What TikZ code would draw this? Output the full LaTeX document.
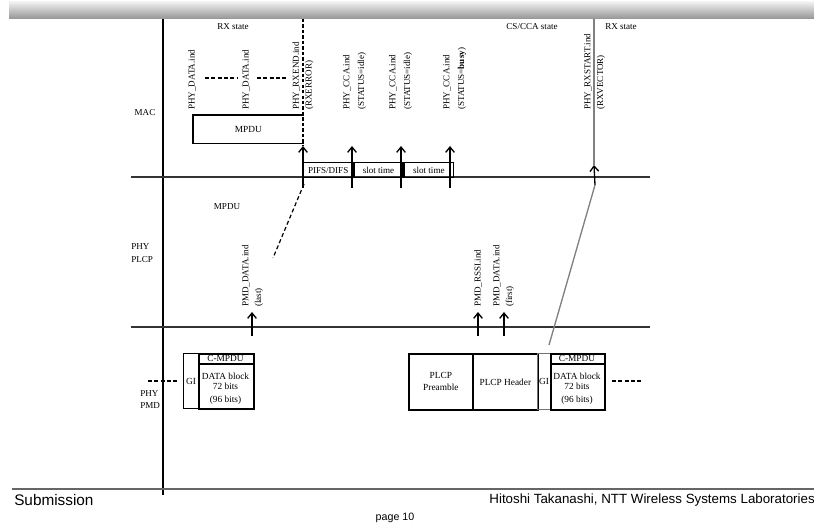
\documentclass[tikz,border=0pt]{standalone}
\usepackage{fontspec}
\setmainfont{Liberation Serif}
\newfontfamily\footfont{Liberation Sans}
\usetikzlibrary{arrows.meta}
\begin{document}
\begin{tikzpicture}[x=0.75pt,y=-0.75pt,
  lbl/.style={font=\fontsize{6.8}{9.5}\selectfont, inner sep=0pt},
  vlbl/.style={lbl, rotate=90, anchor=west, align=left},
  wlbl/.style={vlbl, font=\fontsize{6.8}{11}\selectfont},
  boxtxt/.style={lbl, font=\fontsize{7}{8}\selectfont},
  uparrow/.style={-{Straight Barb[length=4pt,width=6.5pt]}, line width=1pt},
  dotline/.style={line width=2pt, dash pattern=on 3pt off 1.75pt},
  layerline/.style={line width=0.9pt, black!80},
  slotbox/.style={draw, line width=1pt, minimum width=36.75pt, minimum height=11.25pt, inner sep=0pt, anchor=north west, font=\fontsize{6.8}{8}\selectfont},
  thickbox/.style={draw, line width=1.3pt, inner sep=0pt, anchor=north west, align=center, font=\fontsize{7}{9}\selectfont},
  thinbox/.style={draw, line width=0.8pt, inner sep=0pt, anchor=north west, align=center, font=\fontsize{7}{9}\selectfont},
]
\useasboundingbox (0,0) rectangle (814,523);

% top bar
\shade[top color=black!6, bottom color=black!42] (9,2) rectangle (814,19);

% main frame lines
\coordinate (vtop) at (163,19);
\coordinate (vbot) at (163,495);
\draw[line width=0.8pt] (vtop) -- (vbot);
\coordinate (l1a) at (131,177); \coordinate (l1b) at (650,177);
\coordinate (l2a) at (131,327); \coordinate (l2b) at (650,327);
\draw[layerline] (l1a) -- (l1b);
\draw[layerline] (l2a) -- (l2b);
\coordinate (fa) at (12,489); \coordinate (fb) at (814,489);
\draw[line width=1pt, black!60] (fa) -- (fb);

% layer labels
\node[lbl] (mac) at (145,113) {MAC};
\node[lbl, anchor=west, align=left, font=\fontsize{6.8}{9.75}\selectfont] (plcp) at (131,253.5) {PHY\\PLCP};
\node[lbl, anchor=west, align=left, font=\fontsize{6.8}{9}\selectfont] (pmd) at (140,400) {PHY\\PMD};

% state labels
\node[lbl] (rxstA) at (233,27) {RX state};
\node[lbl] (ccast) at (532,27) {CS/CCA state};
\node[lbl] (rxstB) at (621,27) {RX state};

% MAC primitives
\node[vlbl] (pd1) at (192,110) {PHY\_DATA.ind};
\node[vlbl] (pd2) at (246,110) {PHY\_DATA.ind};
\node[vlbl] (rxend) at (303,110) {PHY\_RXEND.ind\\(RXERROR)};
\node[wlbl] (cca1) at (354.5,110) {PHY\_CCA.ind\\(STATUS=idle)};
\node[wlbl] (cca2) at (400.5,110) {PHY\_CCA.ind\\(STATUS=idle)};
\node[wlbl] (cca3) at (454.5,110) {PHY\_CCA.ind\\(STATUS=\textbf{busy})};
\node[vlbl] (rxstart) at (594.5,110) {PHY\_RXSTART.ind\\(RXVECTOR)};

\coordinate (d1a) at (205,78); \coordinate (d1b) at (237,78);
\coordinate (d2a) at (257,78); \coordinate (d2b) at (288,78);
\draw[dotline] (d1a) -- (d1b);
\draw[dotline] (d2a) -- (d2b);

% MPDU box (right side is the dashed line)
\node[minimum width=82.5pt, minimum height=21pt, inner sep=0pt, anchor=north west, boxtxt] (mpdu) at (193,115) {MPDU};
\draw[line width=0.9pt] (mpdu.north east) -- (mpdu.north west) -- (mpdu.south west) -- (mpdu.south east);
\coordinate (dtop) at (303,19);
\coordinate (dbot) at (303,146);
\draw[line width=0.9pt, dash pattern=on 2.5pt off 1.6pt] (dtop) -- (dbot);

% slot boxes
\node[slotbox] (pifs) at (303,162) {PIFS/DIFS};
\node[slotbox] (slot1) at (pifs.north east) {slot time};
\node[slotbox] (slot2) at (slot1.north east) {slot time};

% MAC arrows
\foreach \x/\n in {303/1, 352/2, 401/3, 450/4}{
  \coordinate (macarrS\n) at (\x,188);
  \coordinate (macarrT\n) at (\x,146);
  \draw[uparrow] (macarrS\n) -- (macarrT\n);
}
% dashed slant
\coordinate (ds1) at (304,184);
\coordinate (ds2) at (273,258);
\draw[line width=0.9pt, dash pattern=on 3pt off 2pt] (ds1) -- (ds2);

% RXSTART line
\coordinate (gtop) at (594,19);
\coordinate (gmid) at (594,165);
\coordinate (gslantS) at (595,185);
\draw[line width=1pt, black!50] (gtop) -- (gmid);

% PLCP section
\node[lbl] (mpdu2) at (227,207) {MPDU};
\node[vlbl] (pmdl) at (252.5,307) {PMD\_DATA.ind\\(last)};
\node[vlbl] (rssi) at (478,307) {PMD\_RSSI.ind};
\node[vlbl] (pmdf) at (503.5,307) {PMD\_DATA.ind\\(first)};
\foreach \x/\n in {252/1, 478/2, 504/3}{
  \coordinate (plcparrS\n) at (\x,336);
  \coordinate (plcparrT\n) at (\x,312);
  \draw[uparrow] (plcparrS\n) -- (plcparrT\n);
}

% PMD section, left group
\coordinate (d3a) at (148,381); \coordinate (d3b) at (177,381);
\draw[dotline] (d3a) -- (d3b);
\node[thinbox, minimum width=11.25pt, minimum height=41.25pt] (gi1) at (183,353) {GI};
\node[thickbox, minimum width=41.25pt, minimum height=41.25pt] (cm1) at (198,353) {};
\draw[line width=0.9pt] ([yshift=-8.25pt]cm1.north west) -- ([yshift=-8.25pt]cm1.north east);
\node[boxtxt] (cm1t) at (225.5,358.5) {C-MPDU};
\node[boxtxt] (cm1b) at (225.5,376) {DATA block};
\node[boxtxt] (cm1c) at (225.5,386) {72 bits};
\node[boxtxt] (cm1d) at (225.5,400) {(96 bits)};

% PMD section, right group
\node[thickbox, minimum width=48pt, minimum height=42pt] (pre) at (408,353) {PLCP\\Preamble};
\node[thickbox, minimum width=48.75pt, minimum height=42pt] (hdr) at (472,353) {PLCP Header};
\node[thinbox, draw=black!55, minimum width=9.75pt, minimum height=42pt] (gi2) at (537,353) {GI};
\node[thickbox, minimum width=40.5pt, minimum height=42pt] (cm2) at (550,353) {};
\draw[line width=0.9pt] ([yshift=-8.25pt]cm2.north west) -- ([yshift=-8.25pt]cm2.north east);
\node[boxtxt] (cm2t) at (577,358.5) {C-MPDU};
\node[boxtxt] (cm2b) at (577,376) {DATA block};
\node[boxtxt] (cm2c) at (577,386) {72 bits};
\node[boxtxt] (cm2d) at (577,400) {(96 bits)};
\coordinate (d4a) at (612,381); \coordinate (d4b) at (642,381);
\draw[dotline] (d4a) -- (d4b);

% gray slant from PMD to RXSTART
\coordinate (gb) at (549,345);
\draw[line width=1pt, black!50] (gb) -- (gslantS);
\draw[uparrow] (gslantS) -- (gmid);

% footer
\node[inner sep=0pt, anchor=west, font=\footfont\fontsize{11.5}{12}\selectfont] (sub) at (14,500) {Submission};
\node[inner sep=0pt, anchor=east, font=\footfont\fontsize{10}{12}\selectfont] (auth) at (815,500) {Hitoshi Takanashi, NTT Wireless Systems Laboratories};
\node[inner sep=0pt, font=\footfont\fontsize{8}{10}\selectfont] (page) at (395,518) {page 10};
\end{tikzpicture}
\end{document}
